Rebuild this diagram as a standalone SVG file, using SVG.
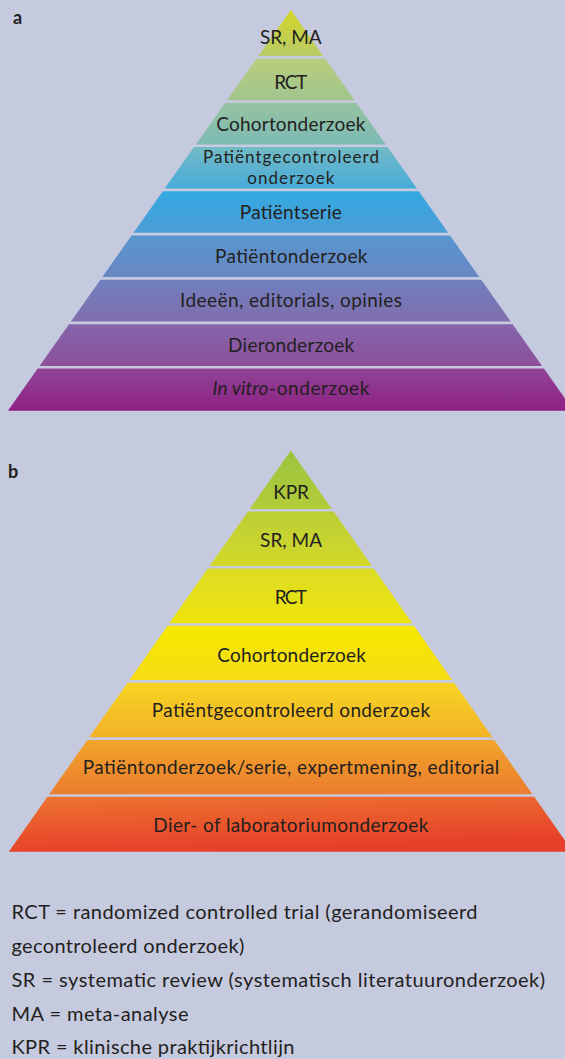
<svg xmlns="http://www.w3.org/2000/svg" width="565" height="1059" viewBox="0 0 565 1059">
<style>
.t{font-family:Lato,"Liberation Sans",sans-serif;font-size:19px;fill:#231f20;text-anchor:middle}
.s{font-size:17px}
.l{font-family:Lato,"Liberation Sans",sans-serif;font-size:20px;fill:#231f20}
.lab{font-family:Lato,"Liberation Sans",sans-serif;font-size:18px;font-weight:bold;fill:#231f20}
</style>
<defs>
<linearGradient id="a1" x1="0" y1="0" x2="0" y2="1"><stop offset="0" stop-color="#d2d626"/><stop offset="1" stop-color="#b9cb68"/></linearGradient>
<linearGradient id="a2" x1="0" y1="0" x2="0" y2="1"><stop offset="0" stop-color="#b8cd7b"/><stop offset="1" stop-color="#a0c58e"/></linearGradient>
<linearGradient id="a3" x1="0" y1="0" x2="0" y2="1"><stop offset="0" stop-color="#96c3a0"/><stop offset="1" stop-color="#7dbab5"/></linearGradient>
<linearGradient id="a4" x1="0" y1="0" x2="0" y2="1"><stop offset="0" stop-color="#72bac5"/><stop offset="1" stop-color="#48abd9"/></linearGradient>
<linearGradient id="a5" x1="0" y1="0" x2="0" y2="1"><stop offset="0" stop-color="#33a9e1"/><stop offset="1" stop-color="#4c9cd6"/></linearGradient>
<linearGradient id="a6" x1="0" y1="0" x2="0" y2="1"><stop offset="0" stop-color="#5796d0"/><stop offset="1" stop-color="#6a87c3"/></linearGradient>
<linearGradient id="a7" x1="0" y1="0" x2="0" y2="1"><stop offset="0" stop-color="#6f80be"/><stop offset="1" stop-color="#806ead"/></linearGradient>
<linearGradient id="a8" x1="0" y1="0" x2="0" y2="1"><stop offset="0" stop-color="#8566ac"/><stop offset="1" stop-color="#8d4f9b"/></linearGradient>
<linearGradient id="a9" x1="0" y1="0" x2="0" y2="1"><stop offset="0" stop-color="#904496"/><stop offset="1" stop-color="#8e2184"/></linearGradient>
<linearGradient id="b1" x1="0" y1="0" x2="0" y2="1"><stop offset="0" stop-color="#9bc43f"/><stop offset="1" stop-color="#b3cc39"/></linearGradient>
<linearGradient id="b2" x1="0" y1="0" x2="0" y2="1"><stop offset="0" stop-color="#bbce36"/><stop offset="1" stop-color="#d3d92a"/></linearGradient>
<linearGradient id="b3" x1="0" y1="0" x2="0" y2="1"><stop offset="0" stop-color="#dbdc24"/><stop offset="1" stop-color="#efe40c"/></linearGradient>
<linearGradient id="b4" x1="0" y1="0" x2="0" y2="1"><stop offset="0" stop-color="#f6e900"/><stop offset="1" stop-color="#f6dc14"/></linearGradient>
<linearGradient id="b5" x1="0" y1="0" x2="0" y2="1"><stop offset="0" stop-color="#f7d422"/><stop offset="1" stop-color="#f2b228"/></linearGradient>
<linearGradient id="b6" x1="0" y1="0" x2="0" y2="1"><stop offset="0" stop-color="#f1a52b"/><stop offset="1" stop-color="#ec7c2e"/></linearGradient>
<linearGradient id="b7" x1="0" y1="0" x2="0.3" y2="1"><stop offset="0" stop-color="#ec7430"/><stop offset="1" stop-color="#e73f2a"/></linearGradient>
</defs>
<rect width="565" height="1059" fill="#c6cadf"/>

<text class="lab" x="13" y="24">a</text>
<g id="a-srma"><polygon points="290.8,10 323.3,56 258.3,56" fill="url(#a1)"/><text class="t" x="290.8" y="43.5" textLength="61.7">SR, MA</text></g>
<g id="a-rct"><polygon points="256.4,58.7 325.2,58.7 354.5,100.2 227.1,100.2" fill="url(#a2)"/><text class="t" x="290.8" y="88.5" textLength="33">RCT</text></g>
<g id="a-cohort"><polygon points="225.2,102.9 356.4,102.9 385.7,144.4 195.9,144.4" fill="url(#a3)"/><text class="t" x="290.8" y="130.5" textLength="149">Cohortonderzoek</text></g>
<g id="a-patgec"><polygon points="194,147.1 387.6,147.1 416.9,188.6 164.7,188.6" fill="url(#a4)"/><text class="t s" x="291" y="163" textLength="176">Patiëntgecontroleerd</text><text class="t s" x="290.8" y="183.6" textLength="87">onderzoek</text></g>
<g id="a-patserie"><polygon points="162.8,191.3 418.8,191.3 448.1,232.8 133.5,232.8" fill="url(#a5)"/><text class="t" x="290.8" y="218.5" textLength="102">Patiëntserie</text></g>
<g id="a-patond"><polygon points="131.6,235.5 450,235.5 479.3,277 102.3,277" fill="url(#a6)"/><text class="t" x="291.3" y="262.7" textLength="152.4">Patiëntonderzoek</text></g>
<g id="a-ideeen"><polygon points="100.4,279.7 481.2,279.7 510.7,321.5 70.9,321.5" fill="url(#a7)"/><text class="t" x="291" y="307" textLength="222">Ideeën, editorials, opinies</text></g>
<g id="a-dier"><polygon points="69,324.2 512.6,324.2 542.1,366 39.5,366" fill="url(#a8)"/><text class="t" x="291.1" y="351.5" textLength="126">Dieronderzoek</text></g>
<g id="a-invitro"><polygon points="37.7,368.5 543.9,368.5 573.7,410.7 7.9,410.7" fill="url(#a9)"/><text class="t" x="212.4" y="395" style="text-anchor:start;font-style:italic" textLength="56">In vitro</text><text class="t" x="269" y="395" style="text-anchor:start" textLength="100.3">-onderzoek</text></g>

<text class="lab" x="8" y="478.3">b</text>
<g id="b-kpr"><polygon points="290.8,450.5 331.9,509 249.7,509" fill="url(#b1)"/><text class="t" x="291.1" y="499.3" textLength="35.7">KPR</text></g>
<g id="b-srma"><polygon points="247.9,511.5 333.7,511.5 372,566 209.6,566" fill="url(#b2)"/><text class="t" x="291.1" y="546.7" textLength="62">SR, MA</text></g>
<g id="b-rct"><polygon points="207.8,568.5 373.8,568.5 412.3,623.3 169.3,623.3" fill="url(#b3)"/><text class="t" x="290.8" y="604" textLength="32.3">RCT</text></g>
<g id="b-cohort"><polygon points="167.6,625.8 414,625.8 452.1,680 129.5,680" fill="url(#b4)"/><text class="t" x="291.6" y="661.7" textLength="148.7">Cohortonderzoek</text></g>
<g id="b-patgec"><polygon points="127.6,682.7 454,682.7 492.4,737.3 89.2,737.3" fill="url(#b5)"/><text class="t" x="290.9" y="716.7" textLength="278.3">Patiëntgecontroleerd onderzoek</text></g>
<g id="b-patond"><polygon points="87.3,740 494.3,740 532.4,794.2 49.2,794.2" fill="url(#b6)"/><text class="t" x="291" y="774" textLength="416.6">Patiëntonderzoek/serie, expertmening, editorial</text></g>
<g id="b-dier"><polygon points="47.4,796.7 534.2,796.7 572.8,851.7 8.8,851.7" fill="url(#b7)"/><text class="t" x="290.8" y="831.7" textLength="275">Dier- of laboratoriumonderzoek</text></g>

<g id="legend">
<text class="l" x="11.5" y="919" textLength="466">RCT = randomized controlled trial (gerandomiseerd</text>
<text class="l" x="11.5" y="953" textLength="232.8">gecontroleerd onderzoek)</text>
<text class="l" x="11.5" y="986.7" textLength="533.6">SR = systematic review (systematisch literatuuronderzoek)</text>
<text class="l" x="11.5" y="1020.7" textLength="177">MA = meta-analyse</text>
<text class="l" x="11.5" y="1054" textLength="283">KPR = klinische praktijkrichtlijn</text>
</g>
</svg>
